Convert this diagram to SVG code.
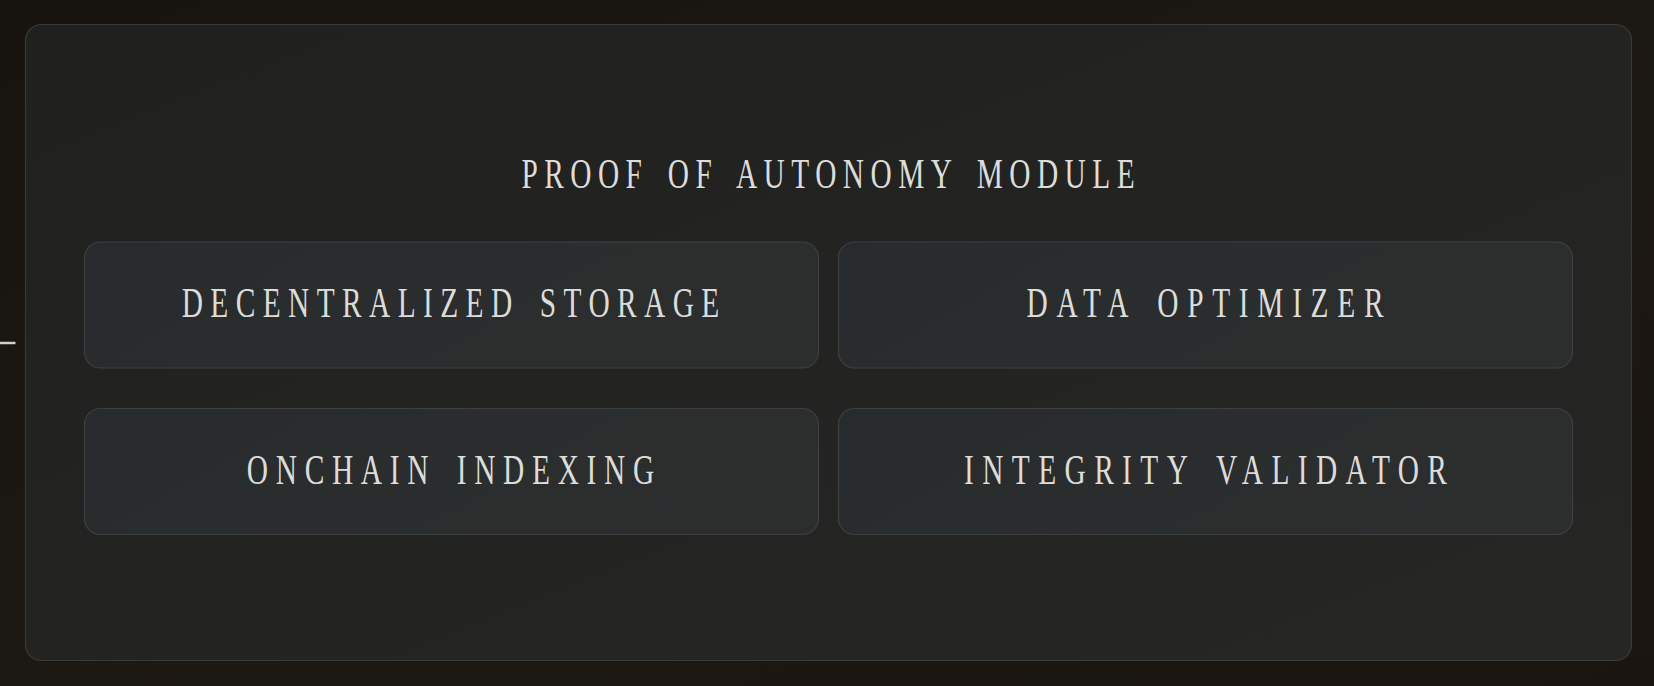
<svg xmlns="http://www.w3.org/2000/svg" width="1654" height="686" viewBox="0 0 1654 686">
  <defs>
    <linearGradient id="bg" x1="0" y1="0" x2="1" y2="1">
      <stop offset="0" stop-color="#17130f"/>
      <stop offset="0.5" stop-color="#1c1814"/>
      <stop offset="1" stop-color="#1a1511"/>
    </linearGradient>
    <linearGradient id="panel" x1="0" y1="0" x2="1" y2="1">
      <stop offset="0" stop-color="#20201e"/>
      <stop offset="1" stop-color="#262625"/>
    </linearGradient>
    <linearGradient id="node" x1="0" y1="0" x2="1" y2="0.3">
      <stop offset="0" stop-color="#282b2d"/>
      <stop offset="1" stop-color="#2c2e2e"/>
    </linearGradient>
    <style>
      .panel { fill: url(#panel); stroke: #3a3a38; stroke-width: 1.2; }
      .node rect { fill: url(#node); stroke: #3d4042; stroke-width: 1.2; }
      .lbl { font-family: "Liberation Serif", "DejaVu Serif", serif; font-size: 42px; fill: #dcdcda; text-anchor: middle; word-spacing: 8px; }
      .conn { stroke: #cfcfcf; stroke-width: 2.5; fill: none; }
    </style>
  </defs>
  <rect x="0" y="0" width="1654" height="686" fill="url(#bg)"/>
  <g id="panel-group">
    <rect class="panel" x="25.5" y="24.5" width="1606" height="636" rx="16"/>
    <text class="lbl" transform="translate(828 188) scale(0.7 1)" textLength="876" lengthAdjust="spacing">PROOF OF AUTONOMY MODULE</text>
  </g>
  <g id="connectors">
    <line class="conn" x1="0" y1="343" x2="15.5" y2="343"/>
  </g>
  <g id="node-storage" class="node">
    <rect x="84.5" y="242" width="734" height="126" rx="16"/>
    <text class="lbl" transform="translate(450.5 317) scale(0.7 1)" textLength="768" lengthAdjust="spacing">DECENTRALIZED STORAGE</text>
  </g>
  <g id="node-optimizer" class="node">
    <rect x="838.5" y="242" width="734" height="126" rx="16"/>
    <text class="lbl" transform="translate(1205 317) scale(0.7 1)" textLength="510" lengthAdjust="spacing">DATA OPTIMIZER</text>
  </g>
  <g id="node-indexing" class="node">
    <rect x="84.5" y="408.5" width="734" height="126" rx="16"/>
    <text class="lbl" transform="translate(450.5 483.5) scale(0.7 1)" textLength="582" lengthAdjust="spacing">ONCHAIN INDEXING</text>
  </g>
  <g id="node-validator" class="node">
    <rect x="838.5" y="408.5" width="734" height="126" rx="16"/>
    <text class="lbl" transform="translate(1205.5 483.5) scale(0.7 1)" textLength="690" lengthAdjust="spacing">INTEGRITY VALIDATOR</text>
  </g>
</svg>
